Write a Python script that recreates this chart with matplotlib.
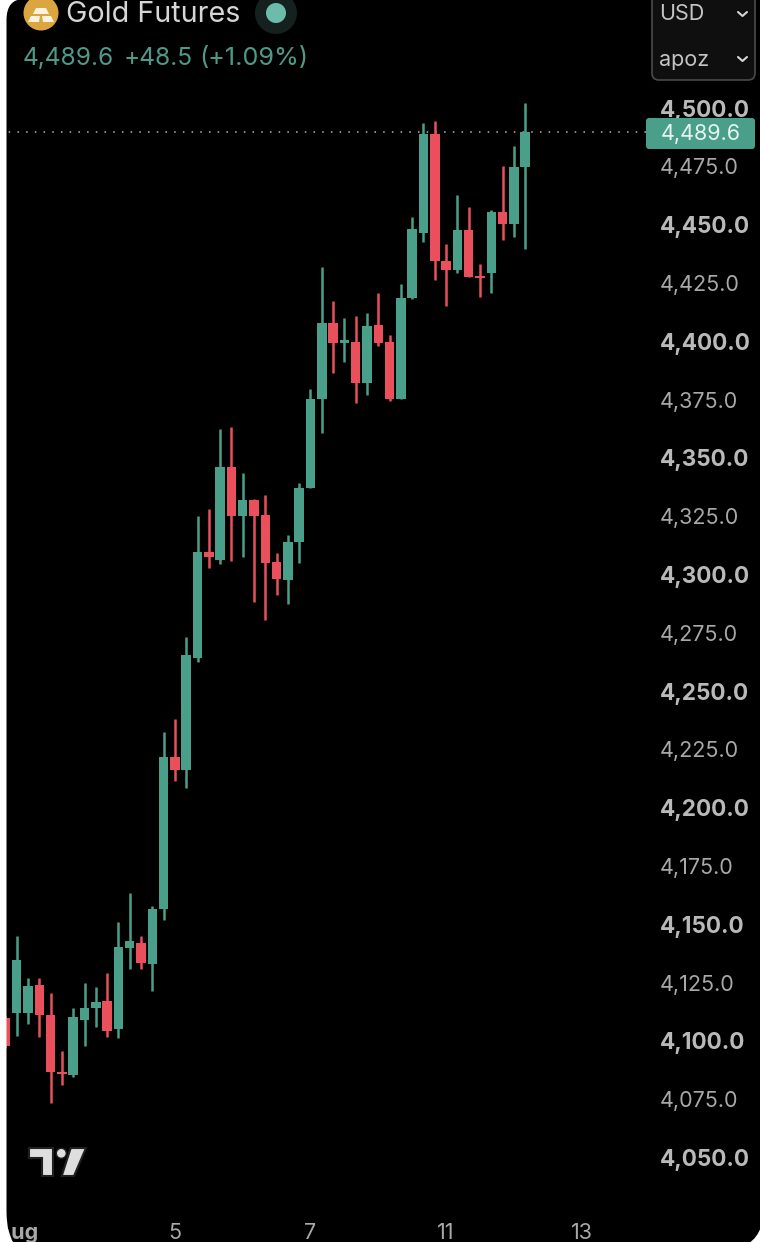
import matplotlib
matplotlib.use("Agg")
import matplotlib.pyplot as plt
from matplotlib.patches import Circle, FancyBboxPatch, PathPatch, Polygon
from matplotlib.path import Path

# ---- data ----
opens = [4109.8, 4111.9, 4111.9, 4123.9, 4111.1, 4086.5, 4085.4, 4108.9, 4114.1, 4117.1,
         4105.1, 4139.8, 4142.0, 4133.0, 4156.5, 4221.7, 4216.1, 4264.2, 4309.6, 4306.2,
         4346.1, 4325.0, 4331.9, 4325.5, 4305.3, 4297.6, 4313.9, 4337.1, 4375.2, 4407.8,
         4399.2, 4399.7, 4382.1, 4407.0, 4399.7, 4375.2, 4418.5, 4446.4, 4488.9, 4434.4,
         4430.5, 4447.7, 4428.0, 4429.2, 4455.4, 4450.3, 4474.7]
closes = [4097.8, 4134.7, 4123.5, 4111.1, 4086.6, 4085.8, 4110.2, 4114.1, 4116.7, 4104.2,
          4140.2, 4142.8, 4133.4, 4156.5, 4221.7, 4216.1, 4265.4, 4309.6, 4307.5, 4346.1,
          4325.0, 4331.9, 4325.0, 4304.9, 4298.0, 4313.9, 4337.1, 4375.2, 4407.8, 4399.2,
          4400.5, 4382.1, 4406.5, 4399.2, 4375.2, 4418.5, 4448.1, 4488.9, 4434.4, 4430.5,
          4447.7, 4427.5, 4427.1, 4455.4, 4450.3, 4474.7, 4489.6]
highs = [4110.5, 4145.0, 4126.9, 4126.9, 4120.5, 4095.6, 4114.1, 4124.8, 4123.1, 4129.1,
         4151.0, 4163.4, 4145.0, 4157.8, 4232.4, 4238.0, 4273.2, 4325.0, 4328.0, 4362.4,
         4363.2, 4343.5, 4332.3, 4334.1, 4309.2, 4316.9, 4339.2, 4379.5, 4431.8, 4417.2,
         4410.0, 4410.8, 4412.1, 4420.7, 4402.7, 4424.5, 4453.3, 4493.6, 4494.4, 4441.7,
         4462.7, 4457.5, 4433.1, 4456.3, 4475.1, 4483.7, 4502.1]
lows = [4097.0, 4102.1, 4107.2, 4101.6, 4073.3, 4081.1, 4084.5, 4097.8, 4105.9, 4101.6,
        4101.2, 4130.8, 4130.8, 4121.4, 4151.8, 4211.4, 4208.4, 4262.4, 4302.8, 4304.5,
        4305.8, 4307.5, 4288.2, 4280.5, 4291.2, 4287.3, 4304.9, 4337.1, 4360.6, 4386.4,
        4391.1, 4373.5, 4376.9, 4397.9, 4374.4, 4375.2, 4418.1, 4442.5, 4426.2, 4415.1,
        4429.2, 4427.5, 4419.0, 4420.7, 4443.4, 4444.7, 4439.5]
price_ticks = [4050, 4075, 4100, 4125, 4150, 4175, 4200, 4225, 4250, 4275,
               4300, 4325, 4350, 4375, 4400, 4425, 4450, 4475, 4500]
day_ticks = [1, 15, 27, 39, 51]
day_labels = ["Aug", "5", "7", "11", "13"]
title = "Gold Futures"
quote = ["4,489.6", "+48.5", "(+1.09%)"]
last_price = closes[-1]

# ---- style ----
W, H = 760, 1242
GREEN, RED = "#4a9f8b", "#e9505c"
FAM = ["Inter", "Roboto", "DejaVu Sans"]
X0, DX = 5.4, 11.3           # pixel of candle 0, pixels per candle
Y500, PPU = 108.0, 2.3322    # pixel of 4500, pixels per price unit
AX_R, AX_B = 650.0, 1215.0   # right / bottom edge of the plot area in pixels

fig = plt.figure(figsize=(W / 100, H / 100), dpi=100, facecolor="black")
ax = fig.add_axes([0, 1 - AX_B / H, AX_R / W, AX_B / H], facecolor="black")
ax.set_xlim(-X0 / DX, (AX_R - X0) / DX)
ax.set_ylim(4500 - (AX_B - Y500) / PPU, 4500 + Y500 / PPU)
for s in ax.spines.values():
    s.set_visible(False)

# candles
xs = list(range(len(opens)))
cols = [GREEN if c >= o else RED for o, c in zip(opens, closes)]
ax.vlines(xs, lows, highs, colors=cols, linewidth=1.8, zorder=2)
ax.bar(xs, [max(abs(c - o), 0.9) for o, c in zip(opens, closes)],
       bottom=[min(o, c) for o, c in zip(opens, closes)],
       width=0.84, color=cols, linewidth=0, zorder=3)

# last price line
ax.axhline(last_price, color="#b5b5b5", lw=1.1, dashes=(1, 4.7), zorder=1)

# axes ticks
ax.yaxis.tick_right()
ax.set_yticks(price_ticks)
ax.set_yticklabels([f"{p:,.1f}" for p in price_ticks])
for p, lab in zip(price_ticks, ax.get_yticklabels()):
    bold = p % 50 == 0
    lab.set(family=FAM, fontsize=16.2 if bold else 15.5,
            color="#b9b9b9" if bold else "#a8a8a8",
            fontweight="bold" if bold else "normal")
ax.tick_params(axis="y", length=0, pad=7)
ax.set_xticks(day_ticks)
ax.set_xticklabels(day_labels)
for lab in ax.get_xticklabels():
    lab.set(family=FAM, fontsize=15.5, color="#a8a8a8")
ax.get_xticklabels()[0].set(fontweight="bold")
ax.tick_params(axis="x", length=0, pad=6)

# ---- chrome in pixel coordinates ----
top = fig.add_axes([0, 0, 1, 1], facecolor="none", zorder=5)
top.set_xlim(0, W)
top.set_ylim(H, 0)
top.axis("off")

# white surround of the rounded panel
verts = [(-5, -5), (W + 5, -5), (W + 5, H + 5), (-5, H + 5), (-5, -5),
         (24, -1), (6.5, -1), (6.5, 20),
         (6.5, 1212), (7, 1236), (14, H + 1),
         (749, H + 1), (757, 1238), (W + 1, 1227), (W + 1, -1), (24, -1)]
codes = [Path.MOVETO, Path.LINETO, Path.LINETO, Path.LINETO, Path.CLOSEPOLY,
         Path.MOVETO, Path.CURVE3, Path.CURVE3,
         Path.LINETO, Path.CURVE3, Path.CURVE3,
         Path.LINETO, Path.CURVE3, Path.CURVE3, Path.LINETO, Path.CLOSEPOLY]
top.add_patch(PathPatch(Path(verts, codes), fc="white", ec="none", zorder=10))

# header
top.add_patch(Circle((41, 13), 17.5, fc="#dba540", ec="none"))
for pts in ([(36, 8), (46, 8), (49, 14), (33, 14)],
            [(28, 22), (39, 22), (40, 16), (31, 16)],
            [(43, 22), (54, 22), (51, 16), (42, 16)]):
    top.add_patch(Polygon(pts, fc="#fbf3e0", ec="none"))
top.text(66, 15, title, family=FAM, fontsize=20.7, color="#d6d6d6", va="center", ha="left")
top.add_patch(Circle((276, 13), 21, fc="#14211f", ec="none"))
top.add_patch(Circle((276, 13), 10, fc="#6cbcab", ec="none"))
top.text(23, 58.5, quote[0], family=FAM, fontsize=17.6, color="#4f9a87", va="center", ha="left")
top.text(124, 58.5, quote[1], family=FAM, fontsize=17.6, color="#4f9a87", va="center", ha="left")
top.text(199, 58.5, quote[2], family=FAM, fontsize=18.2, color="#4f9a87", va="center", ha="left")

# selector box
top.add_patch(FancyBboxPatch((652, -20), 103, 100, boxstyle="round,pad=0,rounding_size=7",
                             fc="#0f0f10", ec="#4a4a4c", lw=1.2))
top.text(659, 14.5, "USD", family=FAM, fontsize=15.5, color="#c4c4c4", va="center", ha="left")
top.text(659, 60, "apoz", family=FAM, fontsize=15.5, color="#c4c4c4", va="center", ha="left")
for cy in (14, 59):
    top.plot([738, 742.5, 747], [cy - 2, cy + 2, cy - 2], color="#d5d5d5", lw=1.5,
             solid_capstyle="round", solid_joinstyle="round")

# last price tag
top.add_patch(FancyBboxPatch((646, 118), 109, 31, boxstyle="round,pad=0,rounding_size=3",
                             fc="#4a9f8b", ec="none"))
top.text(661, 134, f"{last_price:,.1f}", family=FAM, fontsize=15.5, color="#e6f4f0",
         va="center", ha="left")

# logo
top.add_patch(Polygon([(29.3, 1148), (52.7, 1148), (52.7, 1176), (41.7, 1176), (41.7, 1158), (29.3, 1158)],
                      fc="#dedede", ec="#202020", lw=1.5))
top.add_patch(Circle((61.3, 1153.3), 5, fc="#dedede", ec="#202020", lw=1))
top.add_patch(Polygon([(70.7, 1148), (86, 1148), (74, 1176), (61.7, 1176)],
                      fc="#dedede", ec="#202020", lw=1.5))

fig.savefig("out.png", dpi=100, facecolor="black")
